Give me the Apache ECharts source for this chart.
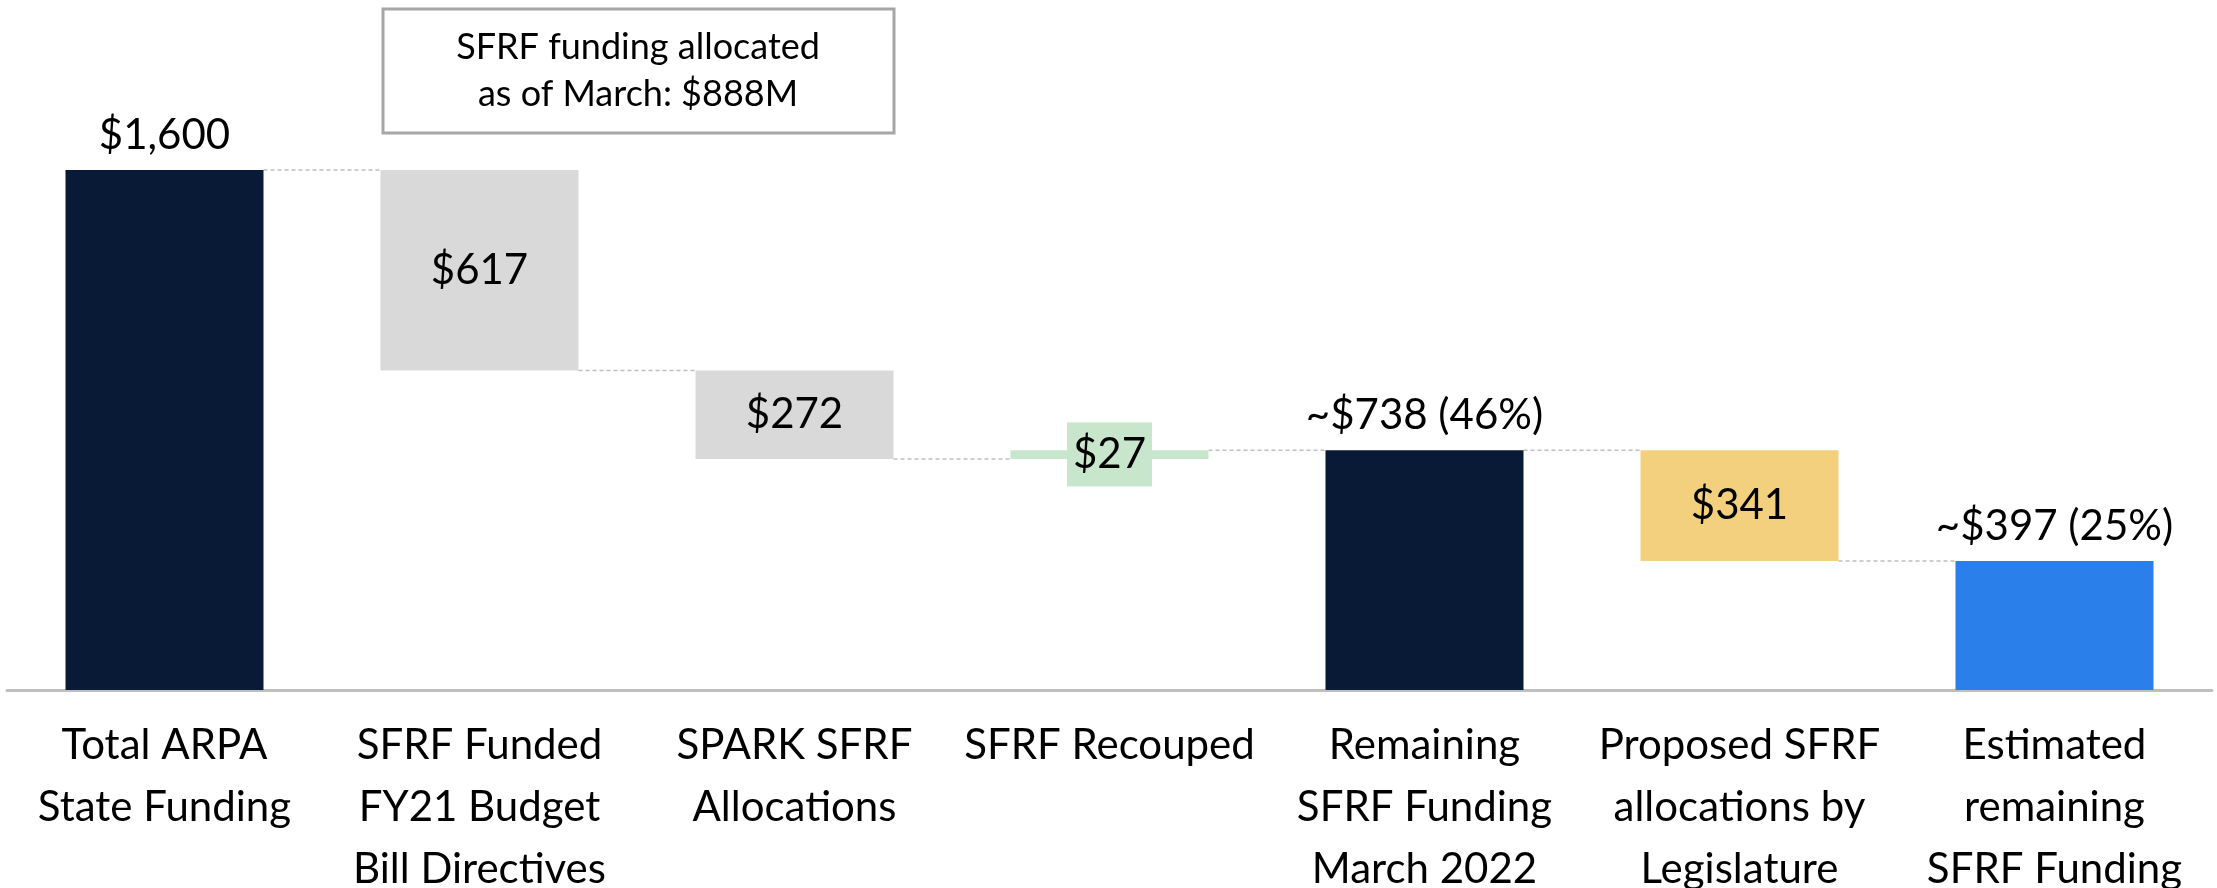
<!DOCTYPE html>
<html>
<head>
<meta charset="utf-8">
<script src="https://cdn.jsdelivr.net/npm/echarts@6/dist/echarts.min.js"></script>
<style>
  html, body { margin: 0; padding: 0; background: #fff; }
  #chart { width: 2217px; height: 888px; }
</style>
</head>
<body>
<div id="chart"></div>
<script>
  // categories and step amounts (negative = spent, positive = added back)
  const categories = [
    'Total ARPA\nState Funding',
    'SFRF Funded\nFY21 Budget\nBill Directives',
    'SPARK SFRF\nAllocations',
    'SFRF Recouped',
    'Remaining\nSFRF Funding\nMarch 2022',
    'Proposed SFRF\nallocations by\nLegislature',
    'Estimated\nremaining\nSFRF Funding'
  ];
  const amounts = [1600, -617, -272, 27, 738, -341, 397];
  const isTotal = [true, false, false, false, true, false, true];
  const valueLabels = ['$1,600', '$617', '$272', '$27', '~$738 (46%)', '$341', '~$397 (25%)'];
  const colors = ['#081A35', '#D9D9D9', '#D9D9D9', '#C8E6CB', '#081A35', '#F3D07E', '#2B7FEB'];

  const FONT = 'Lato, "Open Sans", sans-serif';
  const BAR_W = 198;

  // build the invisible base + visible part of each step
  const base = [], visible = [], levels = [];
  let running = 0;
  amounts.forEach((a, i) => {
    if (isTotal[i]) {
      base.push(0);
      visible.push(a);
      running = a;
    } else if (a < 0) {
      base.push(running + a);
      visible.push(-a);
      running = running + a;
    } else {
      base.push(running);
      visible.push(a);
      running = running + a;
    }
    levels.push(running);
  });

  const chart = echarts.init(document.getElementById('chart'));

  const option = {
    animation: false,
    grid: { left: 7, right: 5, top: 170, bottom: 198, outerBoundsMode: 'none', containLabel: false },
    xAxis: {
      type: 'category',
      data: categories,
      axisTick: { show: false },
      axisLine: { lineStyle: { color: '#BFBFBF', width: 3 } },
      axisLabel: {
        interval: 0,
        color: '#000',
        fontSize: 42,
        lineHeight: 62,
        fontFamily: FONT,
        margin: 24
      }
    },
    yAxis: { type: 'value', min: 0, max: 1600, show: false },
    series: [
      {
        // connectors between bars
        type: 'custom',
        z: 1,
        data: levels.slice(0, -1).map((v, i) => [i, v]),
        renderItem: function (params, api) {
          const i = api.value(0);
          const p1 = api.coord([i, api.value(1)]);
          const p2 = api.coord([i + 1, api.value(1)]);
          return {
            type: 'line',
            shape: { x1: p1[0] + BAR_W / 2, y1: p1[1], x2: p2[0] - BAR_W / 2, y2: p2[1] },
            style: { stroke: '#BFBFBF', lineWidth: 1.5, lineDash: [4, 3] }
          };
        }
      },
      {
        type: 'bar',
        stack: 'wf',
        barWidth: BAR_W,
        itemStyle: { color: 'transparent' },
        emphasis: { disabled: true },
        data: base
      },
      {
        type: 'bar',
        stack: 'wf',
        barWidth: BAR_W,
        z: 3,
        data: visible.map((v, i) => {
          const item = { value: v, itemStyle: { color: colors[i] } };
          if (isTotal[i]) {
            item.label = { show: true, position: 'top', distance: 14 };
          } else if (i === 3) {
            item.label = {
              show: true, position: 'inside',
              backgroundColor: colors[i], padding: [12, 6, 10, 6]
            };
          } else {
            item.label = { show: true, position: 'inside' };
          }
          return item;
        }),
        label: {
          color: '#000',
          fontSize: 42,
          fontFamily: FONT,
          formatter: p => valueLabels[p.dataIndex]
        }
      }
    ],
    graphic: [
      {
        type: 'rect',
        x: 383, y: 9,
        shape: { width: 511, height: 124 },
        style: { fill: '#fff', stroke: '#A6A6A6', lineWidth: 3 }
      },
      {
        type: 'text',
        x: 638, y: 71,
        style: {
          text: 'SFRF funding allocated\nas of March: $888M',
          align: 'center', verticalAlign: 'middle',
          fontSize: 36, lineHeight: 47,
          fontFamily: FONT, fill: '#000'
        }
      }
    ]
  };

  chart.setOption(option);
</script>
</body>
</html>
